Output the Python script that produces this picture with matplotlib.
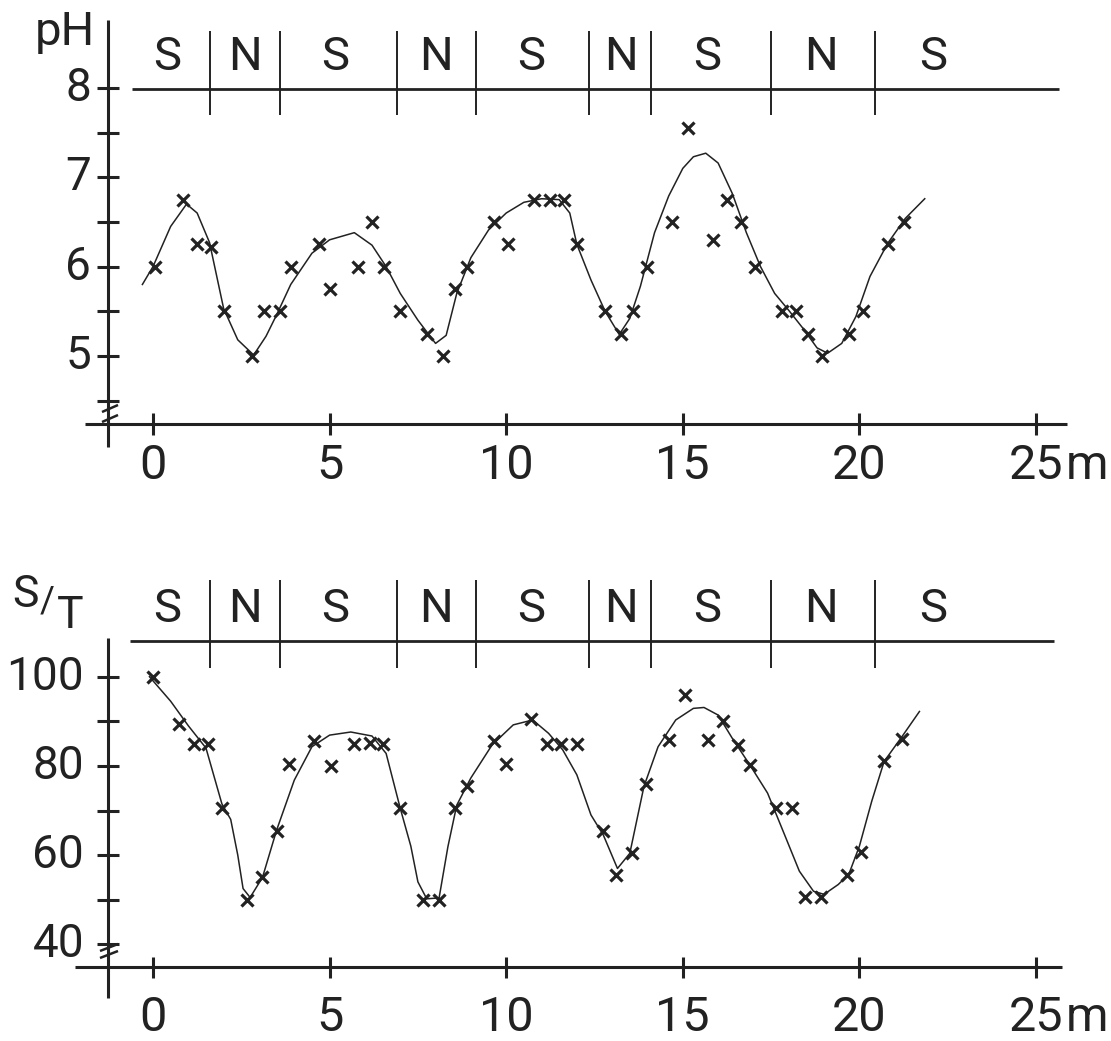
import matplotlib.pyplot as plt

plt.rcParams['font.family'] = ['Roboto', 'DejaVu Sans']

# distance along the transect (m)
x_ticks = [0, 5, 10, 15, 20, 25]
x_ticklabels = ['0', '5', '10', '15', '20', '25']

# S / N zones along the transect
zone_edges = [1.6, 3.6, 6.9, 9.15, 12.35, 14.1, 17.5, 20.45]
zone_centers = [0.4, 2.6, 5.15, 8.0, 10.7, 13.25, 15.7, 18.9, 22.1]
zone_labels = ['S', 'N', 'S', 'N', 'S', 'N', 'S', 'N', 'S']

# pH measurements
ph_x = [0.05, 0.85, 1.25, 1.65, 2.0, 2.8, 3.15, 3.6, 3.9, 4.7, 5.0, 5.8, 6.2, 6.55, 7.0,
        7.75, 8.2, 8.55, 8.9, 9.65, 10.05, 10.8, 11.25, 11.65, 12.0, 12.8, 13.25, 13.6,
        14.0, 14.7, 15.15, 15.85, 16.25, 16.65, 17.05, 17.8, 18.2, 18.55, 18.95, 19.7,
        20.1, 20.8, 21.25]
ph_y = [6.0, 6.75, 6.25, 6.22, 5.5, 5.0, 5.5, 5.5, 6.0, 6.25, 5.75, 6.0, 6.5, 6.0, 5.5,
        5.25, 5.0, 5.75, 6.0, 6.5, 6.25, 6.75, 6.75, 6.75, 6.25, 5.5, 5.25, 5.5,
        6.0, 6.5, 7.55, 6.3, 6.75, 6.5, 6.0, 5.5, 5.5, 5.25, 5.0, 5.25,
        5.5, 6.25, 6.5]
# hand drawn trend line
ph_curve_x = [-0.3, 0.0, 0.5, 0.95, 1.25, 1.6, 2.0, 2.4, 2.85, 3.2, 3.5, 3.9, 4.5, 5.0, 5.7,
              6.2, 6.6, 7.0, 7.5, 8.0, 8.3, 8.6, 9.0, 9.5, 10.0, 10.5, 11.0, 11.5, 11.8, 12.0,
              12.4, 12.8, 13.2, 13.5, 13.8, 14.2, 14.6, 15.0, 15.3, 15.65, 16.0, 16.4, 16.8,
              17.2, 17.6, 18.0, 18.4, 18.8, 19.1, 19.5, 19.9, 20.3, 20.8, 21.3, 21.85]
ph_curve_y = [5.8, 6.0, 6.45, 6.7, 6.6, 6.27, 5.53, 5.18, 5.01, 5.22, 5.46, 5.8, 6.15, 6.3, 6.38,
              6.24, 6.0, 5.7, 5.4, 5.14, 5.23, 5.7, 6.1, 6.41, 6.6, 6.72, 6.76, 6.75, 6.6, 6.25,
              5.85, 5.5, 5.24, 5.42, 5.78, 6.38, 6.79, 7.1, 7.23, 7.27, 7.16, 6.82, 6.38,
              6.0, 5.7, 5.51, 5.31, 5.09, 5.03, 5.14, 5.44, 5.89, 6.26, 6.54, 6.76]
ph_major = [8, 7, 6, 5]
ph_minor = [7.5, 6.5, 5.5, 4.5]

# S/T measurements
st_x = [0.0, 0.75, 1.15, 1.55, 1.95, 2.65, 3.1, 3.5, 3.85, 4.55, 5.05, 5.7, 6.15, 6.5, 7.0,
        7.65, 8.1, 8.55, 8.9, 9.65, 10.0, 10.7, 11.15, 11.55, 12.0, 12.75, 13.1, 13.55,
        13.95, 14.6, 15.05, 15.7, 16.15, 16.55, 16.9, 17.65, 18.1, 18.45, 18.9, 19.65,
        20.05, 20.7, 21.2]
st_y = [100, 89.5, 85, 85, 70.5, 50, 55, 65.5, 80.5, 85.5, 80, 85, 85.2, 85, 70.5,
        50, 50, 70.5, 75.5, 85.5, 80.5, 90.5, 85, 85, 85, 65.5, 55.5, 60.5,
        76, 85.7, 96, 85.7, 90, 84.7, 80.2, 70.5, 70.5, 50.7, 50.5, 55.5,
        60.8, 81, 86]
st_curve_x = [-0.1, 0.5, 1.0, 1.5, 1.95, 2.2, 2.4, 2.55, 2.75, 3.1, 3.5, 4.0, 4.5, 5.0, 5.6,
              6.2, 6.6, 7.0, 7.3, 7.5, 7.75, 8.1, 8.35, 8.6, 9.0, 9.6, 10.2, 10.75, 11.2,
              11.6, 12.0, 12.4, 12.75, 13.15, 13.5, 13.9, 14.3, 14.8, 15.3, 15.6, 16.0, 16.4,
              16.9, 17.4, 17.9, 18.3, 18.7, 19.0, 19.4, 19.7, 20.0, 20.35, 20.7, 21.2, 21.7]
st_curve_y = [100, 94.5, 89, 84, 71.5, 68, 60, 52.5, 50.5, 55, 65.6, 76.8, 84.3, 86.9, 87.6,
              86.7, 82.8, 70.5, 62, 54, 50.2, 50.4, 61.9, 71.2, 77.3, 84.7, 89.2, 90.3, 87.3,
              83.6, 78, 69, 64.5, 57.0, 60.4, 75.4, 84.3, 90.3, 92.9, 93.1, 91.4, 86.2,
              80.2, 73.9, 64.2, 56.4, 51.9, 51.2, 53.4, 55.7, 62, 72.1, 81, 86.5, 92.2]
st_major = [100, 80, 60, 40]
st_minor = [90, 70, 50]

W, H = 1111, 1041
fig = plt.figure(figsize=(W / 100, H / 100), dpi=100)
ink = '#222222'


def xm(px):
    return (px - 153) / 35.32


def ph_fy(py):
    return 8 - (py - 88) / 89.3


def st_fy(py):
    return 100 - (py - 676.7) / 4.46


panels = [
    dict(fy=ph_fy, xs=ph_x, ys=ph_y, cx=ph_curve_x, cy=ph_curve_y,
         major=ph_major, minor=ph_minor, ylab_px=91, ylab_size=33,
         yax=(20, 447), xax=423.5, xax_ext=(85, 1067), xt=(413, 435), xl=466,
         head=89, head_ext=(132, 1059), sep=(31, 115), zone=57.5,
         brk=[((102, 412), (118, 405)), ((102, 422), (118, 415))]),
    dict(fy=st_fy, xs=st_x, ys=st_y, cx=st_curve_x, cy=st_curve_y,
         major=st_major, minor=st_minor, ylab_px=84, ylab_size=33,
         yax=(638, 998), xax=967.3, xax_ext=(75, 1062), xt=(957, 978), xl=1018,
         head=641, head_ext=(130, 1054), sep=(580, 668), zone=609.5,
         brk=[((100, 951), (118, 944)), ((100, 958), (118, 951))]),
]

for p in panels:
    fy = p['fy']
    ax = fig.add_axes([0, 0, 1, 1])
    ax.set_xlim(xm(0), xm(W))
    ax.set_ylim(fy(H), fy(0))
    ax.axis('off')
    ax.patch.set_alpha(0)
    k = dict(color=ink, clip_on=False, solid_capstyle='butt')

    # axes with ticks
    ax.plot([xm(108), xm(108)], [fy(p['yax'][0]), fy(p['yax'][1])], lw=2.2, **k)
    ax.plot([xm(p['xax_ext'][0]), xm(p['xax_ext'][1])], [fy(p['xax']), fy(p['xax'])], lw=2.2, **k)
    for t in x_ticks:
        ax.plot([t, t], [fy(p['xt'][0]), fy(p['xt'][1])], lw=2.2, **k)
    for t, lab in zip(x_ticks, x_ticklabels):
        ax.text(t, fy(p['xl']), lab, ha='center', va='center', fontsize=35, color=ink)
    ax.text(xm(1066), fy(p['xl']), 'm', ha='left', va='center', fontsize=35, color=ink)
    for v in p['major'] + p['minor']:
        ax.plot([xm(97), xm(119)], [v, v], lw=2.2, **k)
    for v in p['major']:
        ax.text(xm(p['ylab_px']), v, str(v), ha='right', va='center',
                fontsize=p['ylab_size'], color=ink)
    for a, b in p['brk']:
        ax.plot([xm(a[0]), xm(b[0])], [fy(a[1]), fy(b[1])], lw=1.8, **k)

    # S / N header
    ax.plot([xm(p['head_ext'][0]), xm(p['head_ext'][1])], [fy(p['head']), fy(p['head'])], lw=2.0, **k)
    for e in zone_edges:
        ax.plot([e, e], [fy(p['sep'][0]), fy(p['sep'][1])], lw=1.4, **k)
    for c, lab in zip(zone_centers, zone_labels):
        ax.text(c, fy(p['zone']), lab, ha='center', va='center', fontsize=34, color=ink)

    # data
    ax.plot(p['cx'], p['cy'], lw=1.1, color=ink)
    ax.plot(p['xs'], p['ys'], ls='none', marker='x', ms=9, mew=2.3, color=ink)

    if fy is ph_fy:
        ax.text(xm(35), fy(45), 'pH', ha='left', va='baseline', fontsize=34, color=ink)
    else:
        ax.text(xm(12), fy(607), 'S', ha='left', va='baseline', fontsize=32, color=ink)
        ax.text(xm(40), fy(612), '/', ha='left', va='baseline', fontsize=26, color=ink)
        ax.text(xm(57), fy(628), 'T', ha='left', va='baseline', fontsize=32, color=ink)

fig.savefig('out.png', dpi=100, facecolor='white')
